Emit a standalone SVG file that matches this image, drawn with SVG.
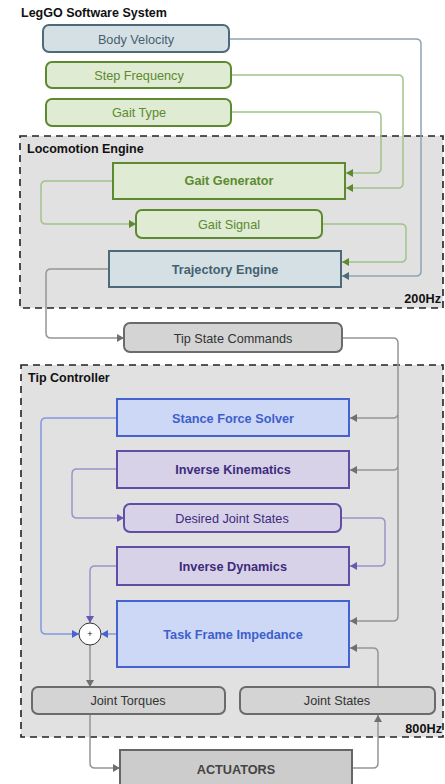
<svg xmlns="http://www.w3.org/2000/svg" width="445" height="784" viewBox="0 0 445 784">
<defs>
<style>
text{font-family:"Liberation Sans",Arial,sans-serif;font-size:12.7px;text-anchor:middle}
.h{font-weight:bold;text-anchor:start;fill:#111;font-size:12.5px}
.b{font-weight:bold}
.grp{fill:#e1e1e1;stroke:#222;stroke-width:1.6;stroke-dasharray:7,5}
.teal rect{fill:#d5e0e5;stroke:#4d6a7a;stroke-width:2}
.teal text{fill:#44606f}
.green rect{fill:#dfebd3;stroke:#5b8a2f;stroke-width:2}
.green text{fill:#5b8a2f}
.grey rect{fill:#d4d4d4;stroke:#6b6b6b;stroke-width:2}
.grey text{fill:#333}
.blue rect{fill:#ccd8f5;stroke:#4563d0;stroke-width:2}
.blue text{fill:#3f5fcc}
.purple rect{fill:#d8d2e8;stroke:#5f4ea3;stroke-width:2}
.purple text{fill:#3e2b7c}
.act rect{fill:#cccccc;stroke:#666;stroke-width:2}
.act text{fill:#444}
#connectors path{fill:none;stroke-width:1.5}
.ct{stroke:#8ea5b1;marker-end:url(#aT)}
.cg{stroke:#a3c289;marker-end:url(#aG)}
.cy{stroke:#959595;marker-end:url(#aY)}
.cb{stroke:#8397df;marker-end:url(#aB)}
.cp{stroke:#9d92c9;marker-end:url(#aP)}
</style>
<marker id="aT" markerUnits="userSpaceOnUse" markerWidth="8" markerHeight="8" refX="7" refY="4" orient="auto"><path d="M0,0 L7,4 L0,8 z" fill="#4d6a7a"/></marker>
<marker id="aG" markerUnits="userSpaceOnUse" markerWidth="8" markerHeight="8" refX="7" refY="4" orient="auto"><path d="M0,0 L7,4 L0,8 z" fill="#5b8a2f"/></marker>
<marker id="aY" markerUnits="userSpaceOnUse" markerWidth="8" markerHeight="8" refX="7" refY="4" orient="auto"><path d="M0,0 L7,4 L0,8 z" fill="#707070"/></marker>
<marker id="aB" markerUnits="userSpaceOnUse" markerWidth="8" markerHeight="8" refX="7" refY="4" orient="auto"><path d="M0,0 L7,4 L0,8 z" fill="#4563d0"/></marker>
<marker id="aP" markerUnits="userSpaceOnUse" markerWidth="8" markerHeight="8" refX="7" refY="4" orient="auto"><path d="M0,0 L7,4 L0,8 z" fill="#6a57b0"/></marker>
</defs>

<text class="h" x="21" y="17">LegGO Software System</text>

<g id="locomotion-engine">
<rect class="grp" x="20" y="136" width="423" height="172"/>
<text class="h" x="27" y="153">Locomotion Engine</text>
<text class="b" x="441" y="303" style="text-anchor:end;fill:#111">200Hz</text>
</g>

<g id="tip-controller">
<rect class="grp" x="21" y="365" width="422" height="372"/>
<text class="h" x="28" y="382">Tip Controller</text>
<text class="b" x="442" y="733" style="text-anchor:end;fill:#111">800Hz</text>
</g>

<g id="connectors">
<path class="ct" d="M230,39 H416 Q421,39 421,44 V271 Q421,276 416,276 H342"/>
<path class="cg" d="M231,75 H398 Q403,75 403,80 V183 Q403,188 398,188 H346"/>
<path class="cg" d="M231,112 H376 Q381,112 381,117 V168 Q381,173 376,173 H346"/>
<path class="cg" d="M113,181 H46 Q41,181 41,186 V219 Q41,224 46,224 H136"/>
<path class="cg" d="M322,224 H401 Q406,224 406,229 V257 Q406,262 401,262 H342"/>
<path class="cy" d="M109,269 H51 Q46,269 46,274 V333 Q46,338 51,338 H124"/>
<path class="cy" d="M342,338 H393 Q398,338 398,343 V413 Q398,418 393,418 H350"/>
<path class="cy" d="M398,415 V465 Q398,470 393,470 H350"/>
<path class="cy" d="M398,467 V616 Q398,621 393,621 H350"/>
<path class="cb" d="M117,418 H46 Q41,418 41,423 V629 Q41,634 46,634 H79"/>
<path class="cp" d="M117,469 H77 Q72,469 72,474 V513 Q72,518 77,518 H124"/>
<path class="cp" d="M341,518 H380 Q385,518 385,523 V561 Q385,566 380,566 H350"/>
<path class="cp" d="M117,566 H95 Q90,566 90,571 V623"/>
<path class="cb" d="M117,634 H101"/>
<path class="cy" d="M90,645 V687"/>
<path class="cy" d="M90,714 V763 Q90,768 95,768 H120"/>
<path class="cy" d="M352,768 H373 Q378,768 378,763 V715"/>
<path class="cy" d="M378,687 V653 Q378,648 373,648 H350"/>
</g>

<g id="body-velocity" class="teal"><rect x="43" y="25" width="186" height="27" rx="6"/><text x="136" y="44">Body Velocity</text></g>
<g id="step-frequency" class="green"><rect x="46" y="62" width="185" height="26" rx="6"/><text x="139" y="80">Step Frequency</text></g>
<g id="gait-type" class="green"><rect x="46" y="99" width="185" height="27" rx="6"/><text x="139" y="117">Gait Type</text></g>

<g id="gait-generator" class="green"><rect x="113" y="163" width="232" height="36"/><text class="b" x="229" y="185">Gait Generator</text></g>
<g id="gait-signal" class="green"><rect x="136" y="210" width="186" height="28" rx="6"/><text x="229" y="229">Gait Signal</text></g>
<g id="trajectory-engine" class="teal"><rect x="109" y="251" width="232" height="36"/><text class="b" x="225" y="274">Trajectory Engine</text></g>

<g id="tip-state-commands" class="grey"><rect x="124" y="323" width="218" height="29" rx="6"/><text x="233" y="343">Tip State Commands</text></g>

<g id="stance-force-solver" class="blue"><rect x="117" y="399" width="232" height="37"/><text class="b" x="233" y="423">Stance Force Solver</text></g>
<g id="inverse-kinematics" class="purple"><rect x="117" y="451" width="232" height="37"/><text class="b" x="233" y="474">Inverse Kinematics</text></g>
<g id="desired-joint-states" class="purple"><rect x="124" y="504" width="217" height="28" rx="6"/><text x="232" y="523">Desired Joint States</text></g>
<g id="inverse-dynamics" class="purple"><rect x="117" y="547" width="232" height="38"/><text class="b" x="233" y="571">Inverse Dynamics</text></g>
<g id="task-frame-impedance" class="blue"><rect x="117" y="601" width="232" height="66"/><text class="b" x="233" y="639">Task Frame Impedance</text></g>

<g id="sum"><circle cx="90" cy="634" r="11" fill="#fff" stroke="#333" stroke-width="1"/><text x="90" y="637" style="font-size:9px;fill:#111">+</text></g>

<g id="joint-torques" class="grey"><rect x="32" y="687" width="193" height="27" rx="6"/><text x="128" y="705">Joint Torques</text></g>
<g id="joint-states" class="grey"><rect x="240" y="687" width="195" height="27" rx="6"/><text x="337" y="705">Joint States</text></g>

<g id="actuators" class="act"><rect x="120" y="750" width="232" height="44"/><text class="b" x="236" y="774">ACTUATORS</text></g>
</svg>
